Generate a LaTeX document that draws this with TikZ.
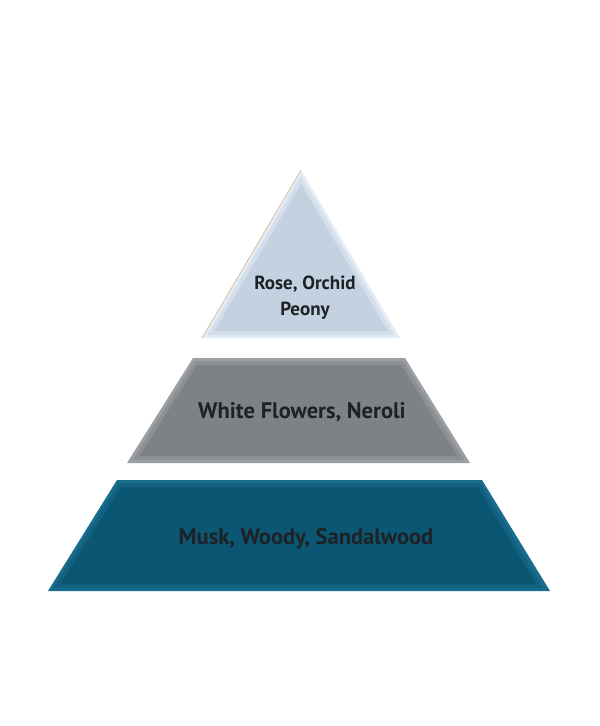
\documentclass[tikz,border=0pt]{standalone}
\usepackage{fontspec}
\setmainfont{PT Sans}
\usepackage{xcolor}
\usepackage{tikz}
\usetikzlibrary{
    positioning,
    calc
}

\definecolor{topmain}{RGB}{196,209,224}
\definecolor{topedge}{RGB}{228,236,245}
\definecolor{midmain}{RGB}{126,129,134}
\definecolor{midedge}{RGB}{156,159,163}
\definecolor{basemain}{RGB}{11,86,115}
\definecolor{baseedge}{RGB}{24,108,140}
\definecolor{labeltext}{RGB}{30,33,37}

\begin{document}
\begin{tikzpicture}[
        x=1pt,
        y=-1pt,
        tierlabel/.style={
            align=center,
            text=labeltext,
            font=\bfseries\fontsize{22.5}{27}\selectfont,
            inner sep=0pt
        }
    ]

    \useasboundingbox[fill=white] (0,0) rectangle (600,726);

    % top tier
    \fill[topedge] (301,170) -- (400,338) -- (202,338) -- cycle;
    \fill[topmain!50!topedge] (301,176) -- (394.7,335) -- (207.3,335) -- cycle;
    \fill[topmain] (301,184) -- (387.7,331) -- (214.3,331) -- cycle;
    \draw[brown!60, line width=0.6pt] (301,170) -- (202,338);

    % middle tier
    \fill[midedge] (193,358) -- (405,358) -- (470,463) -- (127,463) -- cycle;
    \fill[midmain!50!midedge] (194.7,361) -- (403.3,361) -- (464.6,460) -- (132.4,460) -- cycle;
    \fill[midmain] (196.9,365) -- (401.1,365) -- (457.5,456) -- (139.6,456) -- cycle;

    % base tier
    \fill[baseedge] (117,480) -- (482,480) -- (550,591) -- (48,591) -- cycle;
    \fill[basemain!50!baseedge] (118.7,483) -- (480.3,483) -- (542.9,588) -- (53.3,588) -- cycle;
    \fill[basemain] (120.9,487) -- (478.1,487) -- (535.9,584) -- (60.5,584) -- cycle;

    \node[tierlabel, font=\bfseries\fontsize{19}{26}\selectfont] (toplabel) at (305,298) {Rose, Orchid\\Peony};
    \node[tierlabel] (midlabel) at (302,412) {White Flowers, Neroli};
    \node[tierlabel] (baselabel) at (306,539) {Musk, Woody, Sandalwood};

\end{tikzpicture}
\end{document}
